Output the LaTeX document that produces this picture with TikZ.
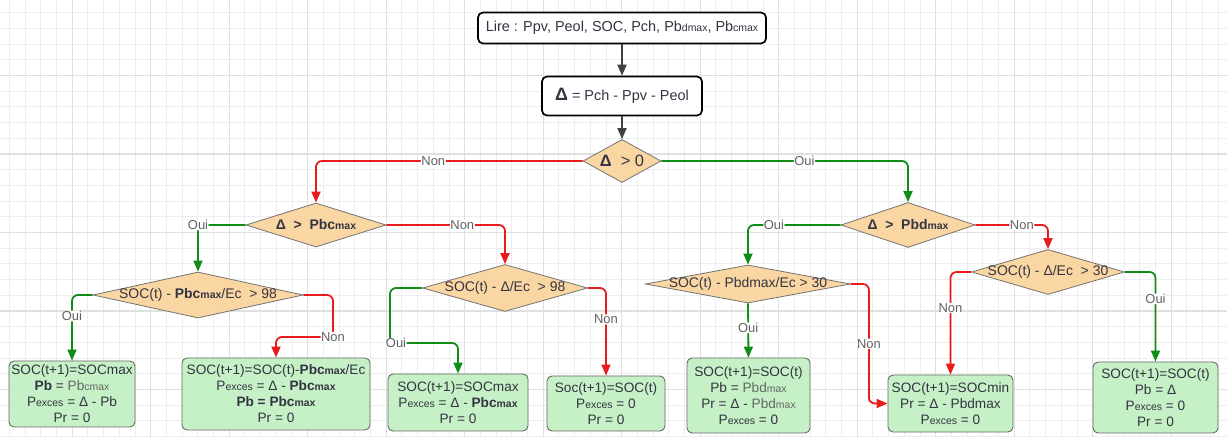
\documentclass[tikz,border=0pt]{standalone}
\usepackage{fontspec}
\setmainfont{Liberation Sans}
\usetikzlibrary{arrows.meta,shapes.geometric}
\definecolor{flowR}{RGB}{232,28,28}
\definecolor{flowG}{RGB}{16,140,24}
\definecolor{decF}{RGB}{250,214,162}
\definecolor{resF}{RGB}{198,240,198}
\definecolor{txtC}{RGB}{52,52,66}
\definecolor{gridT}{RGB}{237,237,237}
\definecolor{gridK}{RGB}{224,224,224}
\newcommand{\sm}[1]{{\fontsize{10.5}{12}\selectfont #1}}
\newcommand{\dl}{\textbf{Δ}}

\begin{document}
\begin{tikzpicture}[x=1bp,y=-1bp,>={Triangle[length=11bp,width=9bp]},
  every node/.style={text=txtC},
  start/.style={draw=black,line width=1.7bp,rounded corners=5bp,fill=white,inner sep=0pt,font=\fontsize{14.5}{16}\selectfont},
  test/.style={diamond,draw=black!55,line width=0.8bp,fill=decF,inner sep=0pt,font=\fontsize{14}{16}\selectfont},
  res/.style={draw=black!60,line width=0.9bp,rounded corners=5bp,fill=resF,align=center,inner sep=0pt,font=\fontsize{13.7}{16}\selectfont},
  go/.style={->,line width=1.8bp,draw=black!75,fill=black!75},
  yes/.style={->,line width=1.8bp,draw=flowG,rounded corners=6bp},
  no/.style={->,line width=1.8bp,draw=flowR,rounded corners=6bp},
  lab/.style={fill=white,inner sep=0.6bp,text=black!62,font=\fontsize{13}{14}\selectfont}]
\useasboundingbox (0,0) rectangle (1227,437);
% grid
\foreach \k in {0,...,77} \draw[gridT,line width=0.8bp] ({9.3+\k*15.7},0)--({9.3+\k*15.7},437);
\foreach \k in {0,...,27} \draw[gridT,line width=0.8bp] (0,{12.7+\k*15.7})--(1227,{12.7+\k*15.7});
\foreach \k in {4,9,...,74} \draw[gridK,line width=1.2bp] ({9.3+\k*15.7},0)--({9.3+\k*15.7},437);
\foreach \k in {4,9,...,24} \draw[gridK,line width=1.2bp] (0,{12.7+\k*15.7})--(1227,{12.7+\k*15.7});
% top
\node[start,minimum width=288bp,minimum height=31bp] (lire) at (622,28) {Lire : Ppv, Peol, SOC, Pch, Pb\sm{dmax}, Pb\sm{cmax}};
\node[start,minimum width=160bp,minimum height=39bp] (delta) at (622,96) {{\fontsize{18}{18}\selectfont\dl} = Pch - Ppv - Peol};
\node[test,minimum width=78bp,minimum height=43bp] (d0) at (622,161) {\makebox[0pt]{\fontsize{16.5}{18}\selectfont\textbf{Δ} \ > 0}};
% tests
\node[test,minimum width=140bp,minimum height=44bp] (dc) at (316,225) {\makebox[0pt]{\textbf{Δ \ > \ Pbc\sm{max}}}};
\node[test,minimum width=134bp,minimum height=45bp] (dd) at (908,225) {\makebox[0pt]{\textbf{Δ \ > \ Pbd\sm{max}}}};
\node[test,minimum width=210bp,minimum height=46bp] (c1) at (198,295) {\makebox[0pt]{SOC(t) - \textbf{Pbc\sm{max}}/Ec \ > 98}};
\node[test,minimum width=165bp,minimum height=47bp] (c2) at (505,288) {\makebox[0pt]{SOC(t) - Δ/Ec \ > 98}};
\node[test,minimum width=205bp,minimum height=38bp] (e1) at (748,284) {\makebox[0pt]{SOC(t) - Pbdmax/Ec > 30}};
\node[test,minimum width=153bp,minimum height=45bp] (e2) at (1048,272) {\makebox[0pt]{SOC(t) - Δ/Ec \ > 30}};
% results
\node[res,minimum width=126bp,minimum height=66bp] (r1) at (72,394) {SOC(t+1)=SOCmax\\\textbf{Pb} = {\color{black!60}Pb\sm{cmax}}\\P\sm{exces} = Δ - Pb\\Pr = 0};
\node[res,minimum width=188bp,minimum height=72bp] (r2) at (276,394) {SOC(t+1)=SOC(t)-\textbf{Pbc\sm{max}}/Ec\\P\sm{exces} = Δ - \textbf{Pbc\sm{max}}\\\textbf{Pb = Pbc\sm{max}}\\Pr = 0};
\node[res,minimum width=140bp,minimum height=57bp] (r3) at (458,402.5) {SOC(t+1)=SOCmax\\P\sm{exces} = Δ - \textbf{Pbc\sm{max}}\\Pr = 0};
\node[res,minimum width=118bp,minimum height=55bp] (r4) at (606,403.5) {Soc(t+1)=SOC(t)\\P\sm{exces} = 0\\Pr = 0};
\node[res,minimum width=123bp,minimum height=75bp] (r5) at (748.5,395.5) {SOC(t+1)=SOC(t)\\Pb = {\color{black!60}Pbd\sm{max}}\\Pr = Δ - {\color{black!60}Pbd\sm{max}}\\P\sm{exces} = 0};
\node[res,minimum width=125bp,minimum height=57bp] (r6) at (950.5,403.5) {SOC(t+1)=SOCmin\\Pr = Δ - Pbdmax\\P\sm{exces} = 0};
\node[res,minimum width=125bp,minimum height=71bp] (r7) at (1155.5,397.5) {SOC(t+1)=SOC(t)\\Pb = Δ\\P\sm{exces} = 0\\Pr = 0};
% arrows
\draw[go] (lire) -- (delta);
\draw[go] (delta) -- (d0);
\draw[no] (d0.west) -| node[lab,pos=0.28]{Non} (dc.north);
\draw[yes] (d0.east) -| node[lab,pos=0.29]{Oui} (dd.north);
\draw[yes] (dc.west) -| node[lab,pos=0.5]{Oui} (c1.north);
\draw[no] (dc.east) -| node[lab,pos=0.32]{Non} (c2.north);
\draw[yes] (c1.west) -| node[lab,pos=0.66]{Oui} (r1.north);
\draw[no] (c1.east) -| (333,337) node[lab]{Non} -| (r2.north);
\draw[yes] (c2.west) -| (390,343) node[lab,xshift=6bp]{Oui} -| (r3.north);
\draw[no] (c2.east) -| node[lab,pos=0.68]{Non} (r4.north);
\draw[yes] (dd.west) -| node[lab,pos=0.36]{Oui} (e1.north);
\draw[no] (dd.east) -| node[lab,pos=0.32]{Non} (e2.north);
\draw[yes] (e1.south) -- node[lab,pos=0.45]{Oui} (r5.north);
\draw[no] (e1.east) -- ++(18,0) |- node[lab,pos=0.25]{Non} (r6.west);
\draw[no] (e2.west) -| node[lab,pos=0.675]{Non} (r6.north);
\draw[yes] (e2.east) -| node[lab,pos=0.65]{Oui} (r7.north);
\end{tikzpicture}
\end{document}
